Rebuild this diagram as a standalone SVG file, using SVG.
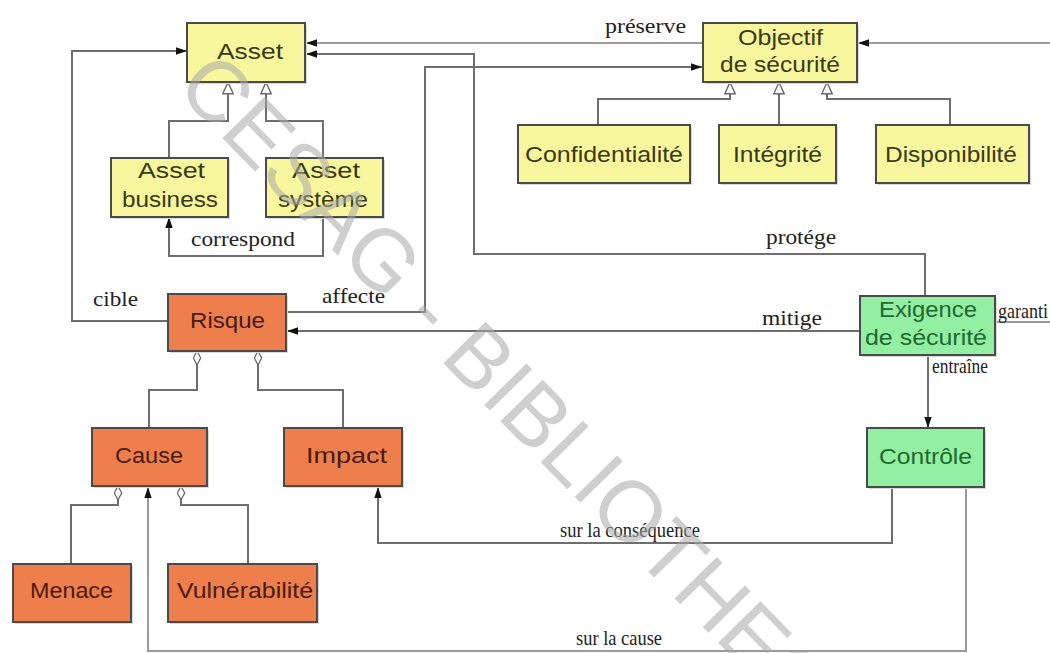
<svg xmlns="http://www.w3.org/2000/svg" width="1050" height="653" viewBox="0 0 1050 653">
  <style>
    .box { stroke: #4a4a4a; stroke-width: 2; }
    .yellow { fill: #f9f79e; }
    .orange { fill: #ee7f4c; }
    .green { fill: #93efa2; }
    .shadow { fill: #d8d8d8; }
    .t { font-family: "Liberation Sans", Arial, sans-serif; font-size: 22px; }
    .ty { fill: #3a3a12; }
    .to { fill: #4a1a08; }
    .tg { fill: #1c6a30; }
    .lbl { font-family: "Liberation Serif", "Times New Roman", serif; font-size: 22px; fill: #222; }
    .conn { fill: none; stroke: #6e6e6e; stroke-width: 2; }
    .light { stroke: #9a9a9a; }
    .wm { font-family: "Liberation Sans", Arial, sans-serif; font-size: 86px; fill: #a8a8a8; fill-opacity: 0.55; }
  </style>
  <defs>
    <marker id="arrow" viewBox="0 0 12 8" refX="12" refY="4" markerWidth="11" markerHeight="8" markerUnits="userSpaceOnUse" orient="auto">
      <path d="M0,0 L12,4 L0,8 z" fill="#111"/>
    </marker>
    <marker id="gen" viewBox="0 0 13 12" refX="12.5" refY="6" markerWidth="13" markerHeight="12" markerUnits="userSpaceOnUse" orient="auto">
      <path d="M0.8,0.8 L12.2,6 L0.8,11.2 z" fill="#fff" stroke="#6a6a6a" stroke-width="1.4"/>
    </marker>
    <marker id="agg" viewBox="0 0 15 9" refX="14.5" refY="4.5" markerWidth="15" markerHeight="9" markerUnits="userSpaceOnUse" orient="auto">
      <path d="M0.5,4.5 L7.5,0.8 L14.5,4.5 L7.5,8.2 z" fill="#fff" stroke="#6a6a6a" stroke-width="1.3"/>
    </marker>
  </defs>

  <rect width="1050" height="653" fill="#fff"/>

  <!-- connectors -->
  <g id="connectors">
    <!-- cible : Risque -> Asset -->
    <path class="conn" d="M168,321 H72 V51 H187" marker-end="url(#arrow)"/>
    <!-- préserve : Objectif -> Asset -->
    <path class="conn light" d="M703,43 H306" marker-end="url(#arrow)"/>
    <!-- protége : Exigence -> Asset -->
    <path class="conn" d="M925,296 V254 H474 V54 H306" marker-end="url(#arrow)"/>
    <!-- affecte : Risque -> Objectif -->
    <path class="conn" d="M286,312 H425 V67 H702" marker-end="url(#arrow)"/>
    <!-- mitige : Exigence -> Risque -->
    <path class="conn" d="M860,331 H287" marker-end="url(#arrow)"/>
    <!-- garanti : Exigence -> Objectif (loop passes beyond the right edge) -->
    <path class="conn light" d="M996,322 H1060 V43 H858" marker-end="url(#arrow)"/>
    <!-- entraîne : Exigence -> Contrôle -->
    <path class="conn" d="M928,355 V428" marker-end="url(#arrow)"/>
    <!-- sur la conséquence : Contrôle -> Impact -->
    <path class="conn" d="M892,487 V543 H378 V487" marker-end="url(#arrow)"/>
    <!-- sur la cause : Contrôle -> Cause -->
    <path class="conn light" d="M966,487 V651 H148 V487" marker-end="url(#arrow)"/>
    <!-- correspond : Asset système -> Asset business -->
    <path class="conn" d="M323,217 V256 H169 V217" marker-end="url(#arrow)"/>

    <!-- generalisation -->
    <path class="conn" d="M169,158 V121 H228 V82" marker-end="url(#gen)"/>
    <path class="conn" d="M323,158 V121 H266 V82" marker-end="url(#gen)"/>
    <path class="conn" d="M598,125 V99 H730 V82" marker-end="url(#gen)"/>
    <path class="conn" d="M779,126 V82" marker-end="url(#gen)"/>
    <path class="conn" d="M950,125 V99 H827 V82" marker-end="url(#gen)"/>

    <!-- aggregation -->
    <path class="conn" d="M149,428 V390 H197 V351" marker-end="url(#agg)"/>
    <path class="conn" d="M343,428 V390 H258 V351" marker-end="url(#agg)"/>
    <path class="conn" d="M71,564 V505 H118 V486" marker-end="url(#agg)"/>
    <path class="conn" d="M248,564 V505 H181 V486" marker-end="url(#agg)"/>
  </g>

  <!-- connector labels -->
  <g id="labels">
    <text class="lbl" x="605" y="33" textLength="81" lengthAdjust="spacingAndGlyphs">préserve</text>
    <text class="lbl" x="93" y="306" textLength="45" lengthAdjust="spacingAndGlyphs">cible</text>
    <text class="lbl" x="322" y="303" textLength="63" lengthAdjust="spacingAndGlyphs">affecte</text>
    <text class="lbl" x="191" y="246" textLength="104" lengthAdjust="spacingAndGlyphs">correspond</text>
    <text class="lbl" x="766" y="244" textLength="70" lengthAdjust="spacingAndGlyphs">protége</text>
    <text class="lbl" x="762" y="325" textLength="60" lengthAdjust="spacingAndGlyphs">mitige</text>
    <text class="lbl" x="998" y="318" font-size="17" textLength="50" lengthAdjust="spacingAndGlyphs">garanti</text>
    <text class="lbl" x="932" y="373" font-size="11" fill="#8a8a8a" textLength="56" lengthAdjust="spacingAndGlyphs">entraîne</text>
    <text class="lbl" x="560" y="537" font-size="17" textLength="140" lengthAdjust="spacingAndGlyphs">sur la conséquence</text>
    <text class="lbl" x="576" y="645" font-size="18" textLength="86" lengthAdjust="spacingAndGlyphs">sur la cause</text>
  </g>

  <!-- nodes -->
  <g id="asset">
    <rect class="shadow" x="189" y="25" width="118" height="59"/>
    <rect class="box yellow" x="187" y="23" width="118" height="59"/>
    <text class="t ty" x="217" y="59" textLength="66" lengthAdjust="spacingAndGlyphs">Asset</text>
  </g>
  <g id="asset-business">
    <rect class="shadow" x="113" y="160" width="117" height="59"/>
    <rect class="box yellow" x="111" y="158" width="117" height="59"/>
    <text class="t ty" x="138" y="178" textLength="67" lengthAdjust="spacingAndGlyphs">Asset</text>
    <text class="t ty" x="122" y="207" textLength="96" lengthAdjust="spacingAndGlyphs">business</text>
  </g>
  <g id="asset-systeme">
    <rect class="shadow" x="268" y="160" width="117" height="59"/>
    <rect class="box yellow" x="266" y="158" width="117" height="59"/>
    <text class="t ty" x="292" y="178" textLength="68" lengthAdjust="spacingAndGlyphs">Asset</text>
    <text class="t ty" x="278" y="207" textLength="90" lengthAdjust="spacingAndGlyphs">système</text>
  </g>
  <g id="objectif-securite">
    <rect class="shadow" x="705" y="25" width="154" height="59"/>
    <rect class="box yellow" x="703" y="23" width="154" height="59"/>
    <text class="t ty" x="738" y="45" textLength="85" lengthAdjust="spacingAndGlyphs">Objectif</text>
    <text class="t ty" x="720" y="72" textLength="120" lengthAdjust="spacingAndGlyphs">de sécurité</text>
  </g>
  <g id="confidentialite">
    <rect class="shadow" x="520" y="127" width="172" height="58"/>
    <rect class="box yellow" x="518" y="125" width="172" height="58"/>
    <text class="t ty" x="525" y="162" textLength="158" lengthAdjust="spacingAndGlyphs">Confidentialité</text>
  </g>
  <g id="integrite">
    <rect class="shadow" x="721" y="127" width="117" height="58"/>
    <rect class="box yellow" x="719" y="125" width="117" height="58"/>
    <text class="t ty" x="733" y="162" textLength="89" lengthAdjust="spacingAndGlyphs">Intégrité</text>
  </g>
  <g id="disponibilite">
    <rect class="shadow" x="878" y="127" width="153" height="58"/>
    <rect class="box yellow" x="876" y="125" width="153" height="58"/>
    <text class="t ty" x="885" y="162" textLength="132" lengthAdjust="spacingAndGlyphs">Disponibilité</text>
  </g>
  <g id="risque">
    <rect class="shadow" x="170" y="296" width="118" height="57"/>
    <rect class="box orange" x="168" y="294" width="118" height="57"/>
    <text class="t to" x="190" y="328" textLength="75" lengthAdjust="spacingAndGlyphs">Risque</text>
  </g>
  <g id="cause">
    <rect class="shadow" x="94" y="430" width="115" height="58"/>
    <rect class="box orange" x="92" y="428" width="115" height="58"/>
    <text class="t to" x="115" y="463" textLength="68" lengthAdjust="spacingAndGlyphs">Cause</text>
  </g>
  <g id="impact">
    <rect class="shadow" x="286" y="430" width="118" height="58"/>
    <rect class="box orange" x="284" y="428" width="118" height="58"/>
    <text class="t to" x="306" y="463" textLength="81" lengthAdjust="spacingAndGlyphs">Impact</text>
  </g>
  <g id="menace">
    <rect class="shadow" x="15" y="566" width="118" height="58"/>
    <rect class="box orange" x="13" y="564" width="118" height="58"/>
    <text class="t to" x="30" y="598" textLength="83" lengthAdjust="spacingAndGlyphs">Menace</text>
  </g>
  <g id="vulnerabilite">
    <rect class="shadow" x="170" y="566" width="149" height="58"/>
    <rect class="box orange" x="168" y="564" width="149" height="58"/>
    <text class="t to" x="177" y="598" textLength="136" lengthAdjust="spacingAndGlyphs">Vulnérabilité</text>
  </g>
  <g id="exigence-securite">
    <rect class="shadow" x="862" y="298" width="135" height="59"/>
    <rect class="box green" x="860" y="296" width="135" height="59"/>
    <text class="t tg" x="879" y="317" textLength="98" lengthAdjust="spacingAndGlyphs">Exigence</text>
    <text class="t tg" x="865" y="345" textLength="122" lengthAdjust="spacingAndGlyphs">de sécurité</text>
  </g>
  <g id="controle">
    <rect class="shadow" x="869" y="430" width="117" height="59"/>
    <rect class="box green" x="867" y="428" width="117" height="59"/>
    <text class="t tg" x="879" y="464" textLength="93" lengthAdjust="spacingAndGlyphs">Contrôle</text>
  </g>

  <!-- library stamp across the sheet -->
  <g id="watermark" transform="translate(174,89) rotate(45.5)">
    <text class="wm" x="0" y="0">CESAG - BIBLIOTHEQUE</text>
  </g>
</svg>
